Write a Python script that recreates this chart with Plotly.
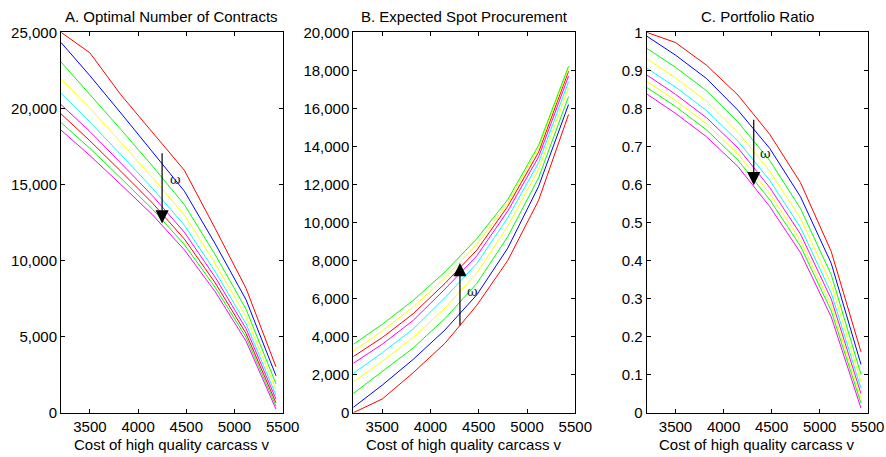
import plotly.graph_objects as go

# ---------------- data ----------------
cost = [3200, 3500, 3820, 4150, 4480, 4800, 5120, 5430]

# Panel A: optimal number of contracts (top to bottom)
a_colors = ["#ff0000", "#0000ff", "#00ff00", "#ffff00", "#00ffff", "#ff00ff", "#ff0000", "#00ff00", "#ff00ff"]
a_r1 = [25000, 23650, 20900, 18400, 15930, 12100, 8170, 3020]
a_b1 = [24330, 22150, 19700, 17150, 14560, 11100, 7420, 2430]
a_g1 = [23050, 20940, 18620, 16200, 13670, 10380, 6800, 1900]
a_y1 = [21940, 20000, 17770, 15450, 12980, 9810, 6300, 1530]
a_c1 = [20990, 19100, 16970, 14740, 12320, 9270, 5840, 1160]
a_m1 = [20250, 18480, 16410, 14250, 11860, 8900, 5520, 900]
a_r2 = [19640, 17870, 15870, 13770, 11410, 8530, 5200, 650]
a_g2 = [19070, 17370, 15420, 13370, 11050, 8230, 4950, 440]
a_m2 = [18570, 16900, 15000, 13000, 10700, 7950, 4700, 240]
a_series = [a_r1, a_b1, a_g1, a_y1, a_c1, a_m1, a_r2, a_g2, a_m2]

# Panel B: expected spot procurement (bottom to top)
b_colors = ["#ff0000", "#0000ff", "#00ff00", "#ffff00", "#00ffff", "#ff00ff", "#ff0000", "#ffff00", "#00ff00"]
b_r1 = [0, 720, 2100, 3650, 5650, 8000, 11170, 15680]
b_b1 = [280, 1450, 2800, 4350, 6200, 8650, 11900, 16200]
b_g1 = [1010, 2150, 3400, 4950, 6800, 9250, 12350, 16620]
b_y1 = [1610, 2700, 3950, 5500, 7350, 9800, 12800, 17080]
b_c1 = [2070, 3150, 4400, 6050, 7850, 10250, 13150, 17400]
b_m1 = [2600, 3600, 4850, 6500, 8250, 10600, 13450, 17700]
b_r2 = [2950, 3950, 5200, 6800, 8550, 10850, 13700, 17950]
b_y2 = [3240, 4300, 5550, 7100, 8850, 11000, 13900, 18080]
b_g2 = [3590, 4650, 5900, 7400, 9150, 11200, 14060, 18210]
b_series = [b_r1, b_b1, b_g1, b_y1, b_c1, b_m1, b_r2, b_y2, b_g2]

# Panel C: portfolio ratio (top to bottom)
c_colors = ["#ff0000", "#0000ff", "#00ff00", "#ffff00", "#00ffff", "#ff00ff", "#ffff00", "#00ff00", "#ff00ff"]
c_r1 = [1.000, 0.973, 0.914, 0.835, 0.732, 0.605, 0.424, 0.160]
c_b1 = [0.990, 0.940, 0.879, 0.795, 0.695, 0.568, 0.393, 0.127]
c_g1 = [0.958, 0.908, 0.847, 0.764, 0.663, 0.537, 0.363, 0.101]
c_y1 = [0.931, 0.880, 0.819, 0.737, 0.635, 0.511, 0.338, 0.081]
c_c1 = [0.906, 0.856, 0.795, 0.714, 0.611, 0.487, 0.315, 0.064]
c_m1 = [0.888, 0.837, 0.776, 0.696, 0.592, 0.470, 0.299, 0.050]
c_y2 = [0.871, 0.821, 0.760, 0.680, 0.576, 0.453, 0.283, 0.037]
c_g2 = [0.855, 0.805, 0.744, 0.664, 0.560, 0.438, 0.268, 0.025]
c_m2 = [0.838, 0.787, 0.726, 0.647, 0.542, 0.421, 0.252, 0.012]
c_series = [c_r1, c_b1, c_g1, c_y1, c_c1, c_m1, c_y2, c_g2, c_m2]

titles = ["A. Optimal Number of Contracts", "B. Expected Spot Procurement", "C. Portfolio Ratio"]
x_label = "Cost of high quality carcass v"
x_ticks = [3500, 4000, 4500, 5000, 5500]
a_yticks = [0, 5000, 10000, 15000, 20000, 25000]
a_ylabels = ["0", "5,000", "10,000", "15,000", "20,000", "25,000"]
b_yticks = [0, 2000, 4000, 6000, 8000, 10000, 12000, 14000, 16000, 18000, 20000]
b_ylabels = ["0", "2,000", "4,000", "6,000", "8,000", "10,000", "12,000", "14,000", "16,000", "18,000", "20,000"]
c_yticks = [0, 0.1, 0.2, 0.3, 0.4, 0.5, 0.6, 0.7, 0.8, 0.9, 1.0]
c_ylabels = ["0", "0.1", "0.2", "0.3", "0.4", "0.5", "0.6", "0.7", "0.8", "0.9", "1"]

# arrows: (x, tail y, head y), omega label (x, y)
a_arrow = (4249, 17150, 12440); a_omega = (4390, 15300)
b_arrow = (4305, 4500, 7870); b_omega = (4440, 6390)
c_arrow = (4314, 0.774, 0.598); c_omega = (4432, 0.682)

# ---------------- figure ----------------
W, H = 886, 457
FONT = "Liberation Sans, Arial, Helvetica, sans-serif"
fig = go.Figure()

panels = [
    (a_series, a_colors, "x", "y"),
    (b_series, b_colors, "x2", "y2"),
    (c_series, c_colors, "x3", "y3"),
]
for series, colors, xa, ya in panels:
    for s, col in zip(series, colors):
        fig.add_trace(go.Scatter(x=cost, y=s, mode="lines", xaxis=xa, yaxis=ya,
                                 line=dict(color=col, width=1), showlegend=False,
                                 hoverinfo="skip"))

left_px = [61, 353.3, 646.7]
right_px = [282.7, 575.3, 867.7]
top_px, bot_px = 32.3, 412.7
ydom = [1 - bot_px / H, 1 - top_px / H]

axis_common = dict(showgrid=False, zeroline=False, showline=True, linecolor="black",
                   linewidth=1, mirror="ticks", ticks="inside", ticklen=4, tickwidth=1,
                   tickcolor="black", automargin=False,
                   tickfont=dict(family=FONT, size=15, color="black"))

yinfo = [((0, 25000), a_yticks, a_ylabels), ((0, 20000), b_yticks, b_ylabels),
         ((0, 1), c_yticks, c_ylabels)]
layout = {}
for i in range(3):
    sfx = "" if i == 0 else str(i + 1)
    layout["xaxis" + sfx] = dict(axis_common, domain=[left_px[i] / W, right_px[i] / W],
                                 range=[3200, 5500], tickvals=x_ticks,
                                 ticktext=[str(t) for t in x_ticks],
                                 anchor="y" + sfx)
    rng, tv, tt = yinfo[i]
    layout["yaxis" + sfx] = dict(axis_common, domain=ydom, range=list(rng), tickvals=tv,
                                 ticktext=tt, anchor="x" + sfx)

annotations = []
for i in range(3):
    cx = (left_px[i] + right_px[i]) / 2 / W
    annotations.append(dict(text=titles[i], x=cx, y=1 - 16 / H, xref="paper", yref="paper",
                            showarrow=False, xanchor="center", yanchor="middle",
                            font=dict(family=FONT, size=15, color="black")))
    annotations.append(dict(text=x_label, x=cx, y=1 - 444 / H, xref="paper", yref="paper",
                            showarrow=False, xanchor="center", yanchor="middle",
                            font=dict(family=FONT, size=15, color="black")))

for (arr, om, sfx) in [(a_arrow, a_omega, ""), (b_arrow, b_omega, "2"), (c_arrow, c_omega, "3")]:
    annotations.append(dict(x=arr[0], y=arr[2], ax=arr[0], ay=arr[1],
                            xref="x" + sfx, yref="y" + sfx, axref="x" + sfx, ayref="y" + sfx,
                            showarrow=True, arrowhead=2, arrowsize=2.2, arrowwidth=1.2,
                            arrowcolor="black", text=""))
    annotations.append(dict(x=om[0], y=om[1], xref="x" + sfx, yref="y" + sfx, text="ω",
                            showarrow=False, font=dict(family="DejaVu Serif, serif", size=13,
                                                       color="#1a1a3a")))

fig.update_layout(width=W, height=H, margin=dict(l=0, r=0, t=0, b=0),
                  paper_bgcolor="white", plot_bgcolor="white",
                  annotations=annotations, **layout)

fig.write_html("out.html")
